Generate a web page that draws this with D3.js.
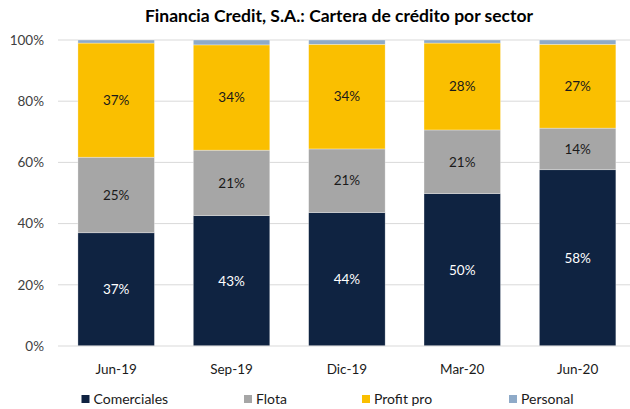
<!DOCTYPE html>
<html><head><meta charset="utf-8">
<script src="https://cdn.jsdelivr.net/npm/d3@7"></script>
<style>body{margin:0;background:#fff}svg{display:block}text{font-family:Lato,"Open Sans",sans-serif}</style>
</head><body><svg id="c" width="630" height="409"></svg>
<script>
const categories = ["Jun-19","Sep-19","Dic-19","Mar-20","Jun-20"];
const seriesNames = ["Comerciales","Flota","Profit pro","Personal"];
const comerciales = [37.0, 42.6, 43.6, 49.8, 57.6];
const flota       = [24.7, 21.4, 20.8, 20.8, 13.6];
const profitPro   = [37.3, 34.4, 34.2, 28.4, 27.4];
const personal    = [1.0, 1.6, 1.4, 1.0, 1.4];
const yTicks = [0, 20, 40, 60, 80, 100];
const colors = ["#0f2341","#a6a6a6","#fabf00","#8eaac8"];
const labelColors = ["#ffffff","#1a1a1a","#1a1a1a",null];

const svg = d3.select("#c");
const x = d3.scaleBand().domain(categories).range([58.5, 635.3]).paddingInner(0.337).paddingOuter(0.1685);
const y = d3.scaleLinear().domain([0,100]).range([346, 40]);

const rows = categories.map((c,i)=>({cat:c, Comerciales:comerciales[i], Flota:flota[i], "Profit pro":profitPro[i], Personal:personal[i]}));
const stack = d3.stack().keys(seriesNames)(rows);

svg.append("g").selectAll("line").data(yTicks.filter(d=>d>0)).join("line")
  .attr("x1",58).attr("x2",630).attr("y1",d=>y(d)).attr("y2",d=>y(d))
  .attr("stroke","#d9d9d9").attr("stroke-width",1);

svg.append("g").selectAll("text").data(yTicks).join("text")
  .attr("x",44).attr("y",d=>y(d)).attr("dy","0.35em").attr("text-anchor","end")
  .attr("font-size",13.5).attr("fill","#404040").text(d=>d+"%");

stack.forEach((s,k)=>{
  const g = svg.append("g");
  g.selectAll("rect").data(s).join("rect")
    .attr("x",d=>x(d.data.cat)).attr("width",x.bandwidth())
    .attr("y",d=>y(d[1])).attr("height",d=>y(d[0])-y(d[1]))
    .attr("fill",colors[k]).attr("stroke","#ffffff").attr("stroke-opacity",0.5).attr("stroke-width",0.6);
  if(labelColors[k]){
    g.selectAll("text").data(s).join("text")
      .attr("x",d=>x(d.data.cat)+x.bandwidth()/2).attr("y",d=>y((d[0]+d[1])/2)).attr("dy","0.35em")
      .attr("text-anchor","middle").attr("font-size",13.5).attr("fill",labelColors[k])
      .text(d=>Math.round(d[1]-d[0])+"%");
  }
});

svg.append("line").attr("x1",58).attr("x2",630).attr("y1",y(0)).attr("y2",y(0)).attr("stroke","#d9d9d9");

svg.append("g").selectAll("text").data(categories).join("text")
  .attr("x",d=>x(d)+x.bandwidth()/2).attr("y",369).attr("dy","0.35em").attr("text-anchor","middle")
  .attr("font-size",13.5).attr("fill","#1a1a1a").text(d=>d);

svg.append("text").attr("x",339).attr("y",16).attr("dy","0.35em").attr("text-anchor","middle")
  .attr("font-size",17.5).attr("font-weight","bold").attr("fill","#000").text("Financia Credit, S.A.: Cartera de crédito por sector");

const legX = [81.5, 244, 362, 509];
const lg = svg.append("g").selectAll("g").data(seriesNames).join("g")
  .attr("transform",(d,i)=>`translate(${legX[i]},399)`);
lg.append("rect").attr("x",0).attr("y",-4).attr("width",8).attr("height",8).attr("fill",(d,i)=>colors[i]);
lg.append("text").attr("x",12).attr("y",0).attr("dy","0.35em").attr("font-size",14).attr("fill","#1a1a1a").text(d=>d);
</script></body></html>
